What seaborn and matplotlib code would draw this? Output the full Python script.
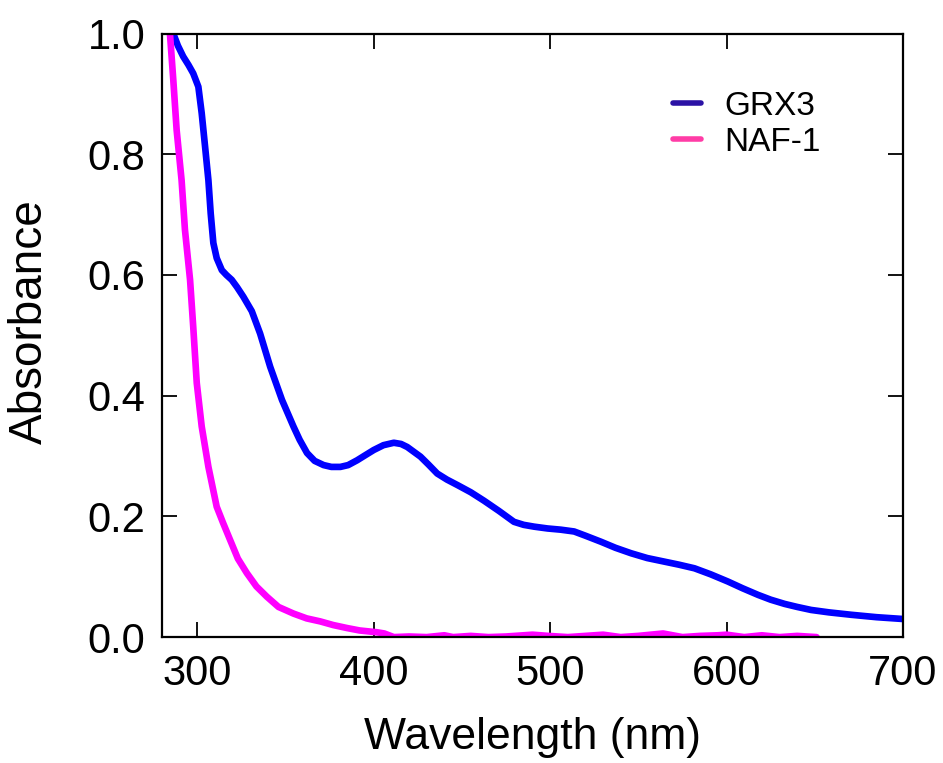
import numpy as np
import pandas as pd
import matplotlib
matplotlib.use("Agg")
import matplotlib.pyplot as plt
import seaborn as sns
from matplotlib.lines import Line2D

# Espectros
grx3_nm = [286.4, 289.0, 292.0, 295.0, 297.7, 300.6, 302.5, 304.4, 306.3, 307.6,
           309.1, 311.0, 313.9, 316.5, 319.5, 322.5, 326.1, 330.9, 335.6, 341.3,
           348.0, 354.5, 358.0, 362.2, 366.5, 371.6, 376.0, 381.1, 385.5, 390.6,
           395.0, 400.0, 405.5, 411.4, 415.5, 419.0, 426.5, 431.0, 436.0, 441.5,
           447.4, 455.0, 462.5, 471.0, 479.5, 485.0, 490.9, 498.5, 506.0, 513.6,
           520.0, 528.8, 537.0, 545.8, 555.0, 564.8, 573.0, 581.8, 591.0, 600.8,
           609.0, 617.8, 625.0, 632.9, 640.0, 647.9, 658.0, 670.6, 685.0, 700.0]
grx3_abs = [1.000, 0.980, 0.962, 0.948, 0.934, 0.912, 0.868, 0.813, 0.757, 0.702,
            0.653, 0.628, 0.608, 0.600, 0.592, 0.580, 0.564, 0.540, 0.503, 0.448,
            0.393, 0.349, 0.327, 0.305, 0.292, 0.285, 0.282, 0.282, 0.285, 0.293,
            0.301, 0.310, 0.318, 0.322, 0.320, 0.315, 0.299, 0.286, 0.271, 0.261,
            0.252, 0.240, 0.226, 0.209, 0.191, 0.186, 0.183, 0.180, 0.178, 0.175,
            0.168, 0.158, 0.148, 0.139, 0.131, 0.125, 0.120, 0.114, 0.104, 0.092,
            0.081, 0.070, 0.062, 0.055, 0.050, 0.045, 0.041, 0.037, 0.033, 0.030]

naf1_nm = [284.5, 286.4, 288.3, 291.1, 293.0, 295.9, 297.7, 299.7, 302.5, 306.3,
           311.0, 314.5, 318.6, 323.0, 328.1, 333.5, 339.4, 346.0, 354.5, 362.0,
           369.7, 377.0, 384.9, 392.0, 401.9, 406.0, 411.4, 420.0, 430.0, 440.0,
           445.0, 455.0, 465.0, 475.0, 490.0, 499.0, 510.0, 520.0, 530.0, 540.0,
           550.0, 564.0, 575.0, 585.0, 595.0, 600.0, 610.0, 620.0, 630.0, 640.0,
           651.0]
naf1_abs = [1.000, 0.923, 0.840, 0.757, 0.675, 0.592, 0.514, 0.421, 0.349, 0.282,
            0.216, 0.190, 0.161, 0.130, 0.106, 0.084, 0.067, 0.050, 0.039, 0.031,
            0.026, 0.020, 0.015, 0.011, 0.008, 0.006, 0.000, 0.001, 0.000, 0.003,
            0.000, 0.002, 0.000, 0.001, 0.004, 0.002, 0.000, 0.002, 0.004, 0.000,
            0.002, 0.006, 0.000, 0.002, 0.003, 0.004, 0.000, 0.003, 0.000, 0.002,
            0.000]

colores_linea = {"GRX3": "#0000ff", "NAF-1": "#ff00ff"}
colores_leyenda = {"GRX3": "#2b12a5", "NAF-1": "#ff3ca6"}

df = pd.concat([
    pd.DataFrame({"nm": grx3_nm, "A": grx3_abs, "muestra": "GRX3"}),
    pd.DataFrame({"nm": naf1_nm, "A": naf1_abs, "muestra": "NAF-1"}),
], ignore_index=True)

sns.set_style("white")
plt.rcParams["font.family"] = ["Liberation Sans", "DejaVu Sans"]
plt.rcParams["text.color"] = "black"
plt.rcParams["axes.labelcolor"] = "black"

fig = plt.figure(figsize=(9.43, 7.63), dpi=100)
ax = fig.add_axes([0.1718, 0.165, 0.7858, 0.791])

sns.lineplot(data=df, x="nm", y="A", hue="muestra", palette=colores_linea,
             linewidth=4.8, legend=False, sort=False, estimator=None, ax=ax)

ax.set_xlim(280, 700)
ax.set_ylim(0, 1.0)
ax.set_xticks([300, 400, 500, 600, 700])
ax.set_yticks([0.0, 0.2, 0.4, 0.6, 0.8, 1.0])
ax.set_yticklabels(["0.0", "0.2", "0.4", "0.6", "0.8", "1.0"])
ax.tick_params(direction="in", length=11, width=1.3, labelsize=30,
               top=True, right=True, bottom=True, left=True, pad=12,
               colors="black")
for s in ax.spines.values():
    s.set_linewidth(1.6)
    s.set_color("black")

ax.set_xlabel("Wavelength (nm)", fontsize=32, labelpad=17)
ax.set_ylabel("Absorbance", fontsize=33)
ax.yaxis.set_label_coords(-0.148, 0.522)

handles = [Line2D([], [], color=colores_leyenda[k], linewidth=4) for k in ["GRX3", "NAF-1"]]
ax.legend(handles, ["GRX3", "NAF-1"], frameon=False, fontsize=24,
          loc="upper left", bbox_to_anchor=(0.649, 0.955),
          handlelength=0.85, handletextpad=0.7, labelspacing=0.15)

fig.savefig("out.png", dpi=100)
